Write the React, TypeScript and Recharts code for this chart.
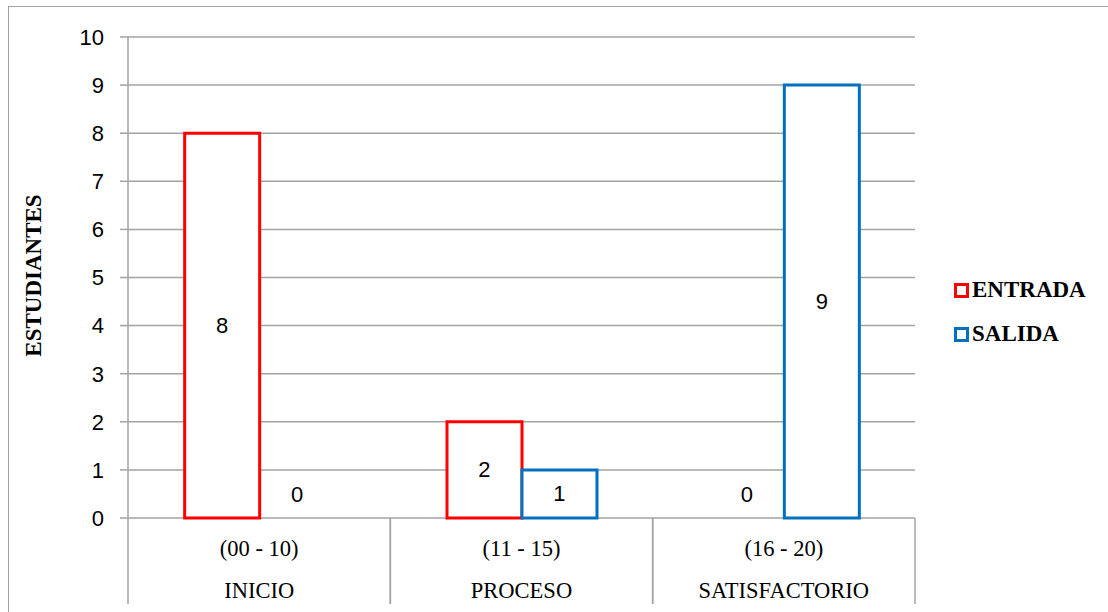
import React from 'react';
import { BarChart, Bar, XAxis, YAxis, CartesianGrid, Legend, LabelList, Label, Rectangle } from 'recharts';

const categories = ['INICIO', 'PROCESO', 'SATISFACTORIO'];
const ranges = ['(00 - 10)', '(11 - 15)', '(16 - 20)'];
const entrada = [8, 2, 0];
const salida = [0, 1, 9];
const yTicks = [0, 1, 2, 3, 4, 5, 6, 7, 8, 9, 10];

const W = 1108;
const H = 612;
const MARGIN = { top: 37, right: 193, bottom: 0, left: 0 };
const Y_AXIS_W = 128;
const X_AXIS_H = 94;
const GRID = '#a3a3a3';
const RED = '#ff0000';
const BLUE = '#0070c0';
const SERIF = '"Liberation Serif", "Times New Roman", serif';
const SANS = '"Liberation Sans", Arial, sans-serif';

const colorOf: Record<string, string> = { entrada: RED, salida: BLUE };

const data = categories.map((name, i) => ({
  name,
  range: ranges[i],
  entrada: entrada[i],
  salida: salida[i],
}));

const bandWidth = (W - MARGIN.left - Y_AXIS_W - MARGIN.right) / categories.length;

const CategoryTick = (props: any) => {
  const { x, y, payload } = props;
  const half = payload && payload.offset > 0 ? payload.offset : bandWidth / 2;
  const idx = payload?.index ?? categories.indexOf(payload?.value);
  return (
    <g>
      <line x1={x - half} y1={y} x2={x - half} y2={y + 86} stroke={GRID} strokeWidth={1.5} />
      <line x1={x + half} y1={y} x2={x + half} y2={y + 86} stroke={GRID} strokeWidth={1.5} />
      <text x={x} y={y + 30} textAnchor="middle" dominantBaseline="central" fontFamily={SERIF} fontSize={22.5} fill="#000">
        {ranges[idx]}
      </text>
      <text x={x} y={y + 72} textAnchor="middle" dominantBaseline="central" fontFamily={SERIF} fontSize={22.5} fill="#000">
        {payload.value}
      </text>
    </g>
  );
};

// zero bars get a 1px stub (minPointSize) so their label is kept, but the stub is not drawn
const outlineShape = (key: string) => (p: any) =>
  p.payload && p.payload[key] > 0 ? <Rectangle {...p} /> : <g />;

const BarValue = (props: any) => {
  const { x, y, width, height, value } = props;
  const cy = Number(value) === 0 ? y + height - 24 : y + height / 2;
  return (
    <text x={x + width / 2} y={cy} textAnchor="middle" dominantBaseline="central" fontFamily={SANS} fontSize={22} fill="#000">
      {value}
    </text>
  );
};

const LegendBox = (props: any) => {
  const items = props.payload || [];
  return (
    <div style={{ fontFamily: SERIF, fontWeight: 'bold', fontSize: 23, color: '#000' }}>
      {items.map((it: any) => (
        <div key={it.dataKey} style={{ display: 'flex', alignItems: 'center', height: 44 }}>
          <svg width={15} height={15} style={{ marginRight: 3 }}>
            <rect x={1.5} y={1.5} width={12} height={12} fill="#fff" stroke={colorOf[it.dataKey]} strokeWidth={3} />
          </svg>
          <span>{it.value}</span>
        </div>
      ))}
    </div>
  );
};

const YLabel = (props: any) => {
  const vb = props.viewBox || { x: 0, y: 0, width: 0, height: 0 };
  const cx = vb.x + 33;
  const cy = vb.y + vb.height / 2 - 2;
  return (
    <text
      x={cx}
      y={cy}
      transform={`rotate(-90, ${cx}, ${cy})`}
      textAnchor="middle"
      dominantBaseline="central"
      fontFamily={SERIF}
      fontWeight="bold"
      fontSize={23}
      fill="#000"
    >
      ESTUDIANTES
    </text>
  );
};

export default function App() {
  return (
    <div style={{ position: 'absolute', left: 0, top: 0, width: W, height: H, overflow: 'hidden', background: '#fff' }}>
      <div
        style={{
          position: 'absolute',
          left: 8,
          top: 6,
          width: W,
          height: H,
          border: `1.5px solid ${GRID}`,
          boxSizing: 'border-box',
        }}
      />
      <BarChart
        width={W}
        height={H}
        data={data}
        margin={MARGIN}
        barCategoryGap="21.6%"
        barGap={0}
        style={{ position: 'absolute', left: 0, top: 0 }}
      >
        <CartesianGrid vertical={false} stroke={GRID} strokeWidth={1.5} />
        <XAxis
          dataKey="name"
          height={X_AXIS_H}
          axisLine={false}
          tickLine={false}
          tickSize={0}
          tickMargin={0}
          interval={0}
          tick={(p: any) => <CategoryTick {...p} />}
        />
        <YAxis
          width={Y_AXIS_W}
          domain={[0, 10]}
          ticks={yTicks}
          interval={0}
          axisLine={{ stroke: GRID, strokeWidth: 1.5 }}
          tickLine={{ stroke: GRID, strokeWidth: 1.5 }}
          tickSize={8}
          tickMargin={16}
          tick={{ fontFamily: SANS, fontSize: 22, fill: '#000' }}
        >
          <Label content={(p: any) => <YLabel {...p} />} />
        </YAxis>
        <Legend
          layout="horizontal"
          verticalAlign="middle"
          align="center"
          content={(p: any) => <LegendBox {...p} />}
          wrapperStyle={{ left: 954, top: 268, width: 150 }}
        />
        <Bar
          dataKey="entrada"
          name="ENTRADA"
          fill="#fff"
          stroke={RED}
          strokeWidth={3}
          minPointSize={1}
          shape={outlineShape('entrada')}
          isAnimationActive={false}
        >
          <LabelList dataKey="entrada" content={(p: any) => <BarValue {...p} />} />
        </Bar>
        <Bar
          dataKey="salida"
          name="SALIDA"
          fill="#fff"
          stroke={BLUE}
          strokeWidth={3}
          minPointSize={1}
          shape={outlineShape('salida')}
          isAnimationActive={false}
        >
          <LabelList dataKey="salida" content={(p: any) => <BarValue {...p} />} />
        </Bar>
      </BarChart>
    </div>
  );
}
